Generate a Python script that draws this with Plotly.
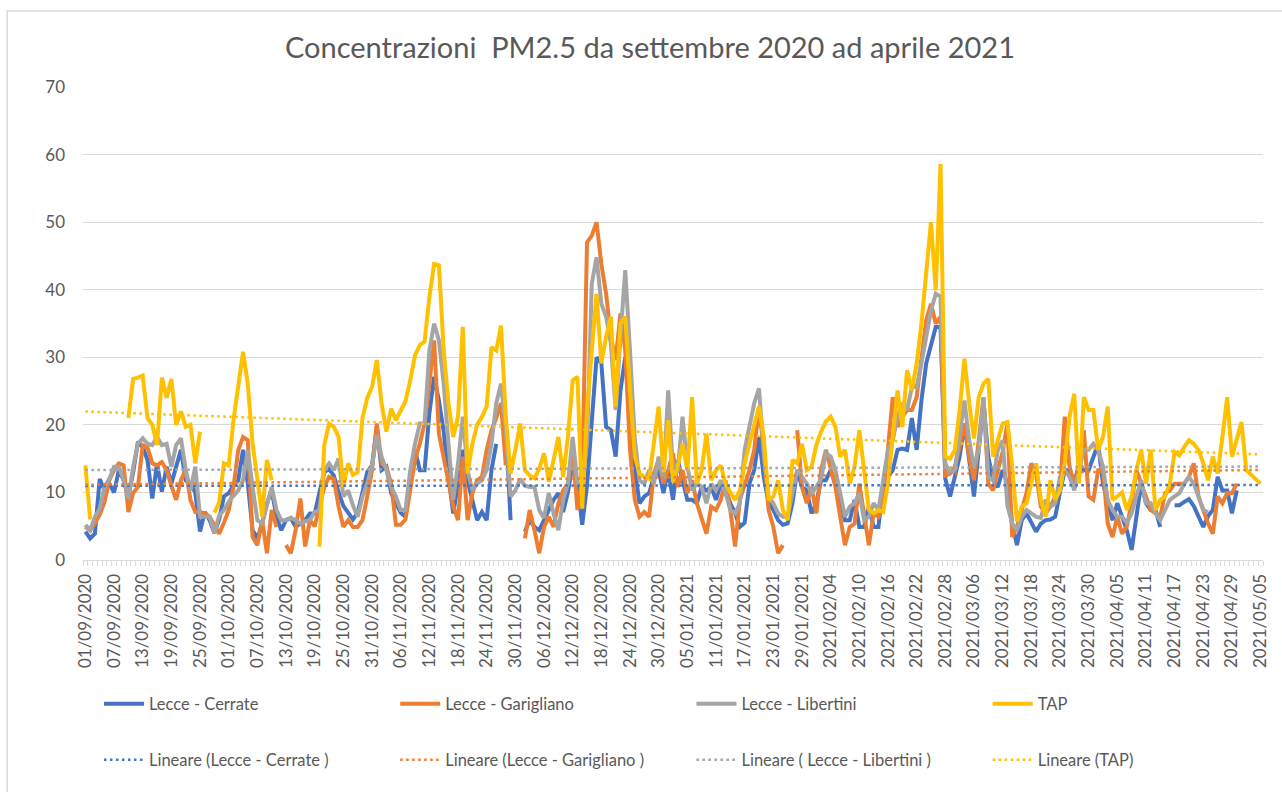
import numpy as np
import plotly.graph_objects as go

N = None

# ---------------- data (daily PM2.5, 01/09/2020 -> 05/05/2021) ----------------
TICK_LABELS = ["01/09/2020", "07/09/2020", "13/09/2020", "19/09/2020", "25/09/2020",
               "01/10/2020", "07/10/2020", "13/10/2020", "19/10/2020", "25/10/2020",
               "31/10/2020", "06/11/2020", "12/11/2020", "18/11/2020", "24/11/2020",
               "30/11/2020", "06/12/2020", "12/12/2020", "18/12/2020", "24/12/2020",
               "30/12/2020", "05/01/2021", "11/01/2021", "17/01/2021", "23/01/2021",
               "29/01/2021", "2021/02/04", "2021/02/10", "2021/02/16", "2021/02/22",
               "2021/02/28", "2021/03/06", "2021/03/12", "2021/03/18", "2021/03/24",
               "2021/03/30", "2021/04/05", "2021/04/11", "2021/04/17", "2021/04/23",
               "2021/04/29", "2021/05/05"]

cerrate = [
    4.2, 3.2, 3.9, 12, 10.3, 11.3, 10, 13.3, 11.8, 9.4,
    13, 17.5, 16.7, 14.8, 9.1, 14.3, 10.1, 13.8, 11.3, 14,
    16.3, 11.8, 11.3, 10, 4.2, 7.1, 5.9, 4, 6, 9.4,
    9.9, 11, 11.8, 16.3, 11.3, 4.4, 3.2, 5.4, 8.4, 10.3,
    6.4, 4.4, 5.9, 6.2, 4.9, 5.4, 5.9, 6.9, 6.9, 10,
    13, 13.5, 12.5, 10, 8, 7, 6, 7, 10, 13,
    14, 19.7, 13.3, 13.8, 9.9, 8.4, 7, 6.4, 11.8, 16.3,
    13.3, 13.3, 21.7, 27.1, 23.6, 19, 12.3, 6.9, 11.3, 16.3,
    11.8, 8.9, 5.9, 7.1, 5.9, 13.3, 17.2, N, 20.2, 5.9,
    N, N, 4.2, 5.9, 4.9, 4.4, 5.9, 7.4, 8.9, 9.9,
    7.1, 10, 14.3, 11.3, 5.2, 11, 20, 30, 29.1, 19.7,
    19.2, 15.3, 25.1, 30, 22.2, 13.3, 8.4, 9.4, 9.9, 12.3,
    13.3, 9.9, 13.3, 8.9, 14.8, 11.8, 8.9, 8.9, 8.4, 10.8,
    10.3, 10.8, 8.9, 11.3, 10.3, 8.4, 6.9, 4.9, 5.5, 11.3,
    13.3, 18.2, 12.3, 8.4, 7.4, 5.9, 5.2, 5.4, 8.4, 13.3,
    10.8, 10.3, 6.9, 8.4, 11.8, 11.8, 13.3, 11.3, 8.4, 5.9,
    5.9, 8.9, 4.9, 4.9, 7.9, 4.9, 4.9, 11.3, 12.3, 13.3,
    16.3, 16.5, 16.3, 21, 16.3, 23.6, 29.1, 32, 34.5, 34.5,
    12, 9.4, 12.3, 15.3, 20.2, 14.8, 9.4, 16.3, 23.2, 15.3,
    11.8, 10.8, 13.3, 11.3, 5.4, 2.2, 5.9, 6.9, 5.4, 4.2,
    5.4, 5.9, 6, 6.4, 10, 13.3, 13.3, 11.3, 14.3, 13.3,
    13.3, 15.3, 17.2, 11.3, 8.4, 5.9, 8.4, 6.4, 4.4, 1.5,
    6.4, 11.3, 8.4, 7.4, 7.4, 4.9, N, N, 8.1, 8.1,
    8.6, 9, 8, 6.4, 4.9, 6.5, 7.4, 12.3, 10.3, 10.3,
    6.9, 10.3, N, N, N, N, N]

garigliano = [
    4.9, 4.4, 5.4, 6.7, 8.6, 11.8, 13.3, 14.3, 14, 7.1,
    9.9, 10.8, 17, 16.7, 14.3, 14, 14.5, 13.3, 11, 8.9,
    11.8, 13.3, 8.9, 7.1, 7.1, 6.9, 6.4, 5, 3.9, 5.5,
    7.4, 10.8, 16.3, 18.2, 17.7, 3.4, 2.2, 5.9, 1, 7.4,
    4.9, N, 2.2, 1, 4.4, 9.1, 2, 5.9, 5, 8,
    10.8, 12.3, 12, 7.9, 4.9, 5.9, 4.9, 4.9, 5.9, 9.4,
    13.3, 20.2, 14.3, 13.8, 11.3, 5.2, 5.2, 6, 10.8, 14.8,
    17.2, 20.2, 26.1, 32.5, 18.7, 15.3, 11.3, 8, 5.9, 15.3,
    5.9, 9.9, 11.8, 12.3, 16.3, 19.2, 21, 23.2, 14, N,
    N, N, 3.2, 7.4, 4.4, 1, 4.9, 6.4, 4.9, 8.4,
    10.3, 11.3, 16.3, 7.4, 12, 47, 48, 50, 43.8, 39.4,
    33, 29.6, 36.5, 31, 16.3, 8.9, 6.4, 7.1, 6.4, 12.8,
    14.8, 11.3, 13.3, 15.8, 10.8, 13.3, 9.9, 11.8, 8.4, 6,
    3.9, 7.9, 7.4, 8.9, 11.8, 7.4, 2, 8.9, 11.3, 13.3,
    16.3, 22.7, 16.3, 7.4, 4.9, 1, 2.2, N, N, 19.2,
    10.8, 8.4, 10.8, 6.9, 13.3, 16.3, 13.8, 10.8, 6.4, 2.2,
    4.9, 5.4, 11.3, 6.4, 2.2, 6.9, 6.4, 8.9, 16, 24.1,
    19.7, 21.2, 22.2, 22.2, 24.1, 30, 35.5, 37.9, 35, 36,
    12.5, 12.8, 13.8, 16.8, 20.2, 15.3, 11.8, 17.7, 24.1, 11.3,
    10.3, 13.3, 16, 20.2, 3.4, 4.9, 7.4, 9.9, 14.3, 12.8,
    7.9, 6.9, 7.9, 9.4, 10.3, 21.2, 13.8, 11.3, 13.3, 19.2,
    9.4, 8.9, 13.3, 13.3, 5.4, 3.4, 6.4, 3.9, 5, 8.4,
    13.3, 11.3, 9.4, 7.4, 6.9, 6.4, 9.9, 10.3, 11.3, 11.3,
    11.3, 12.3, 14.3, 9.4, 7.4, 5.4, 3.9, 9.4, 8.4, 9.9,
    9.9, 11.3, N, N, N, N, N]

libertini = [
    5.2, 4.4, 6.4, 7.6, 10.8, 12, 13.8, 13.8, 11.8, 9.1,
    13.8, 17.2, 18, 17.2, 17, 18.2, 17, 17.2, 13.8, 17,
    18, 13.3, 10.3, 13.8, 6.4, 6.4, 6.4, 4, 6.6, 7.4,
    8.6, 9.5, 10.3, 11.8, 16.3, 10.8, 5.9, 5.4, 8.4, 10.8,
    7.4, 5.9, 5.9, 6.2, 5.9, 5.4, 5.7, 5.9, 7.1, 7.4,
    13.3, 14.3, 13.3, 15, 9.4, 10.3, 8.1, 6.4, 9.4, 11.3,
    14, 18.5, 15.3, 13.3, 10.8, 9.4, 7.4, 7.4, 13.3, 17.2,
    20.2, 20.2, 31, 35, 32.5, 26.1, 17.2, 8.9, 14.3, 21.2,
    13.3, 10.3, 11.3, 11.8, 13.3, 17.2, 23.2, 26.1, 19.2, 9.4,
    10.3, 12, 11, 10.8, 10.8, 7.4, 6.2, 9.9, 6.9, 4.4,
    8.9, 11.3, 18.2, 11.3, 11.3, 17.2, 40.9, 44.8, 37.9, 36,
    32, 22.2, 33, 42.9, 31, 18, 11.8, 11.3, 13.3, 11.3,
    15.3, 12, 25.1, 13.3, 13.3, 21.2, 13.8, 10.3, 11.3, 10.8,
    8.4, 11.3, 10.3, 11.8, 9.9, 7.4, 6.9, 8.4, 16.3, 20,
    23.2, 25.4, 15.8, 9.4, 8.4, 6.9, 6.4, 6.4, 9.9, 13.3,
    12.3, 11.3, 9.9, 10.8, 12, 15.8, 15.3, 13.3, 9.9, 6.4,
    7.9, 8.4, 9.9, 5.9, 6.4, 8.4, 7.4, 12.3, 16.3, 17.7,
    21.2, 23.2, 22.2, 25.6, 25.6, 29.1, 33, 36.9, 39.4, 39,
    14.3, 12.8, 13.3, 18.2, 23.6, 17.7, 13.8, 16.3, 24.1, 12.3,
    11.8, 16.3, 17.7, 8, 5.4, 4.4, 6.4, 7.4, 6.9, 6.4,
    6.2, 8.9, 7.9, 8.4, 12.3, 13.3, 12.3, 10.3, 13.3, 16.3,
    16.3, 17.2, 16.3, 13.8, 8.9, 7.4, 6.4, 6.4, 5.5, 6.9,
    9.4, 11.8, 8.4, 8.4, 6.9, 5.9, 7.4, 8.9, 9.4, 9.9,
    11.3, 12.3, 11.3, 9.4, 7.4, 7.1, N, N, N, N,
    N, N, N, N, N, N, N]

tap = [
    14, 6, N, N, N, N, N, N, N, 21,
    26.8, 27, 27.3, 21, 20, 17, 27, 24, 26.8, 20,
    22, 19.7, 20, 14.3, 19, N, N, 7, 8.5, 14.3,
    14, 20.7, 26, 30.8, 26, 17.2, 12, 6.4, 14.8, 11.8,
    N, N, N, N, N, N, N, N, N, 2,
    17, 20.2, 19.7, 18.2, 10.8, 14.3, 12.6, 13, 21, 24,
    25.6, 29.6, 23.2, 19, 22.4, 20.7, 22, 23.5, 26.6, 30.3,
    31.8, 32.3, 38.9, 43.8, 43.6, 31, 23.2, 18.2, 21.2, 34.5,
    12.8, 17.2, 20, 21.2, 22.7, 31.5, 31, 34.7, 21.2, 12.8,
    16.3, 20.2, 13.3, 12.5, 12.1, 13.5, 15.8, 11.6, 14.8, 18.2,
    12.3, 18.2, 26.6, 27.1, 7.6, 22.2, 31, 39.4, 29.1, 33,
    36, 22.7, 35, 36, 25.1, 15.3, 12.8, 12.3, 12, 17.7,
    22.7, 13, 20.7, 11.5, 14, 17.2, 13.3, 24.1, 11.3, 13.3,
    18.7, 11.8, 13.3, 14, 11.3, 10, 8.9, 10.3, 14.3, 17.2,
    20.2, 22.7, 18.2, 8.9, 9.4, 11.8, 7.4, 5.9, 14.8, 14.3,
    17.2, 13.3, 13.8, 17, 19, 20.5, 21.2, 19.7, 15.3, 16.3,
    11.3, 13.8, 19.2, 12.8, 7.4, 6.9, 7.4, 7.1, 11.3, 18.2,
    25.1, 19.7, 28.1, 25.1, 29.1, 35, 41.9, 50, 39.9, 58.6,
    15.3, 15, 16.3, 22.2, 29.8, 23.2, 18, 24.1, 26.1, 26.8,
    15.3, 17.7, 20.2, 20.4, 13.8, 5.7, 7.9, 8.4, 11.3, 14.3,
    8.9, 6.4, 11.8, 8.9, 10.3, 14.3, 21.2, 24.6, 11.3, 24.1,
    22.2, 22.2, 16.3, 18.2, 22.7, 8.9, 9.4, 10, 7.4, 9.4,
    13.3, 16.3, 11.3, 16.3, 7.4, 8.9, 9.4, 11.3, 16, 15.5,
    16.7, 17.7, 17.2, 16.3, 14.3, 11.8, 15.3, 12.8, 18.2, 24.1,
    15.3, 18, 20.4, 13.3, 12.6, 12, 11.3]

SERIES = [
    ("Lecce - Cerrate", cerrate, "#4472C4", "Lineare (Lecce - Cerrate )"),
    ("Lecce - Garigliano", garigliano, "#ED7D31", "Lineare (Lecce - Garigliano )"),
    ("Lecce - Libertini", libertini, "#A5A5A5", "Lineare ( Lecce - Libertini )"),
    ("TAP", tap, "#FFC000", "Lineare (TAP)"),
]

for _, vals, _, _ in SERIES:
    assert len(vals) == 247, len(vals)

days = np.arange(247)

TXT = "#595959"
GRID = "#d9d9d9"
FONT = "Lato"

# plot-area geometry (pixels): left, width, top, height
PL, PW, PT, PH = 83, 1183, 87, 473
PB = PT + PH
LEG_COL_LEFT = [99, 396, 693, 990]   # left edge of each legend column
LEG_ROW_Y = [704, 760]               # vertical centre of each legend row

fig = go.Figure()
legends = {}
for i, (name, vals, color, tname) in enumerate(SERIES):
    lid = "legend" if i == 0 else f"legend{i + 1}"
    fig.add_trace(go.Scatter(x=days, y=vals, mode="lines", name=name,
                             line=dict(color=color, width=4), legend=lid,
                             connectgaps=False))
    legends[lid] = (LEG_COL_LEFT[i], LEG_ROW_Y[0])

for i, (name, vals, color, tname) in enumerate(SERIES):
    lid = f"legend{i + 5}"
    y = np.array([np.nan if v is None else v for v in vals], dtype=float)
    m = ~np.isnan(y)
    slope, icpt = np.polyfit(days[m], y[m], 1)
    fig.add_trace(go.Scatter(x=days, y=slope * days + icpt, mode="lines", name=tname,
                             line=dict(color=color, width=2.5, dash="2.5px,3.5px"),
                             legend=lid))
    legends[lid] = (LEG_COL_LEFT[i], LEG_ROW_Y[1])

legend_layout = {}
for lid, (px, py) in legends.items():
    legend_layout[lid] = dict(orientation="h", x=(px - PL) / PW, xanchor="left",
                              y=(PB - py) / PH, yanchor="middle", itemwidth=40,
                              font=dict(size=16.5, color=TXT, family=FONT),
                              bgcolor="rgba(0,0,0,0)")

fig.update_layout(
    width=1282, height=792,
    margin=dict(l=PL, r=1282 - PL - PW, t=PT, b=792 - PB),
    paper_bgcolor="white", plot_bgcolor="white",
    font=dict(family=FONT, color=TXT),
    title=dict(text="Concentrazioni  PM2.5 da settembre 2020 ad aprile 2021",
               x=0.507, xanchor="center", xref="container",
               y=1 - 48 / 792, yanchor="middle", yref="container",
               font=dict(size=29, color=TXT, family=FONT)),
    xaxis=dict(range=[-0.5, 246.5], tickmode="array",
               tickvals=list(range(0, 247, 6)), ticktext=TICK_LABELS,
               tickangle=-90, ticks="", showline=True, linecolor=GRID, linewidth=1,
               showgrid=False, zeroline=False, tickfont=dict(size=17, color=TXT),
               ticklabelstandoff=6,
               minor=dict(tickmode="linear", tick0=-0.5, dtick=1, ticks="outside",
                          ticklen=5, tickcolor=GRID, tickwidth=1, showgrid=False)),
    yaxis=dict(range=[0, 70], tick0=0, dtick=10, showgrid=True, gridcolor=GRID,
               gridwidth=1, zeroline=False, showline=False, ticks="",
               tickfont=dict(size=17, color=TXT), ticklabelstandoff=17),
    showlegend=True,
    **legend_layout,
)

# light chart-area border (Excel chart frame)
fig.add_shape(type="rect", xref="paper", yref="paper",
              x0=(7 - PL) / PW, x1=(1300 - PL) / PW,
              y0=(PB - 820) / PH, y1=(PB - 11) / PH,
              line=dict(color=GRID, width=1.5), layer="below")

fig.write_html("out.html", config={"displayModeBar": False},
               post_script="document.body.style.margin='0';")
